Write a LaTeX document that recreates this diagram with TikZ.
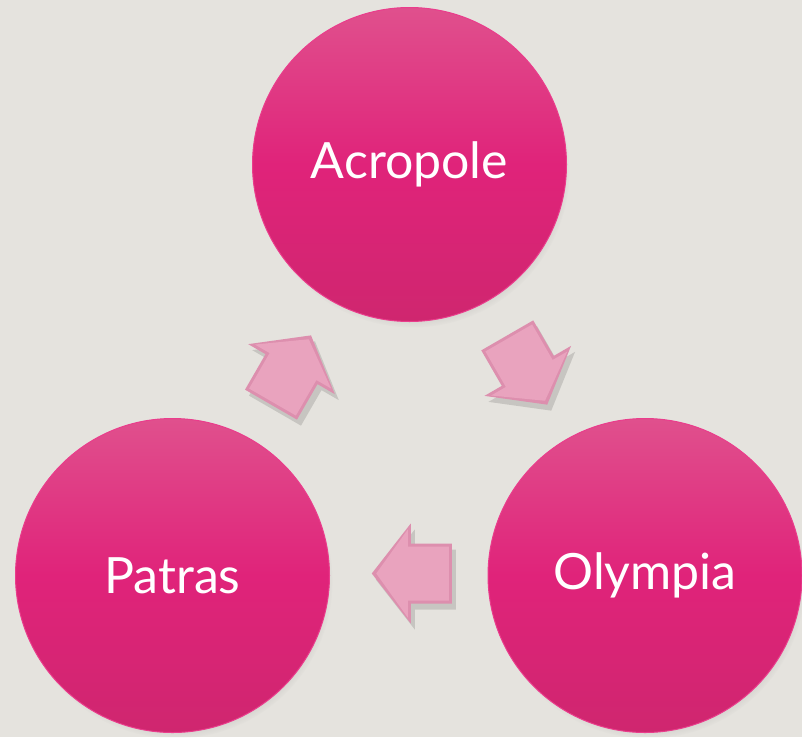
\documentclass[tikz,border=0pt]{standalone}
\usepackage{fontspec}
\setmainfont{Lato}
\usetikzlibrary{calc,shadows,fadings}
\definecolor{bg}{HTML}{E5E3DE}
\definecolor{ctop}{HTML}{E0508D}
\definecolor{cmid}{HTML}{E0237A}
\definecolor{cbot}{HTML}{CF266F}
\definecolor{crim}{HTML}{EA3D8C}
\definecolor{aedge}{HTML}{DD8FAE}
\definecolor{amain}{HTML}{E9A3BE}
\begin{document}
\begin{tikzpicture}[x=1pt,y=-1pt,
  city/.style={circle, minimum size=314pt, inner sep=0pt,
    top color=ctop, bottom color=cbot, middle color=cmid,
    draw=crim, line width=1pt, text=white,
    font=\fontsize{50}{58}\selectfont,
    circular drop shadow={shadow scale=1.0, shadow xshift=3pt, shadow yshift=-6pt, opacity=0.4}},
  pics/ashadow/.style={code={
    \fill[black, opacity=0.13] (-40,-30) -- (1,-30) -- (1,-50) -- (40,0) -- (1,50) -- (1,30) -- (-40,30) -- cycle;}},
  pics/abody/.style={code={
    \fill[aedge] (-40,-30) -- (1,-30) -- (1,-50) -- (40,0) -- (1,50) -- (1,30) -- (-40,30) -- cycle;
    \fill[amain] (-37,-27) -- (4,-27) -- (4,-44) -- (35.5,0) -- (4,44) -- (4,27) -- (-37,27) -- cycle;}}
]
\useasboundingbox (0,0) rectangle (802,737);
\fill[bg] (0,0) rectangle (802,737);
\clip (0,0) rectangle (802,737);
\node[city] (acro) at (409.5,164.5) {Acropole};
\node[city] (patr) at (172.5,575.5) {Patras};
\node[city] (olym) at (645,575.5) {Olympia};
\coordinate (m1) at ($(patr)!0.5!(acro)$);
\coordinate (m2) at ($(acro)!0.5!(olym)$);
\coordinate (m3) at ($(olym)!0.5!(patr)+(3,-2)$);
\pic[rotate=60] at ($(m1)+(4,6)$) {ashadow};
\pic[rotate=-60] at ($(m2)+(4,6)$) {ashadow};
\pic[rotate=180] at ($(m3)+(4,6)$) {ashadow};
\pic[rotate=60] at (m1) {abody};
\pic[rotate=-60] at (m2) {abody};
\pic[rotate=180] at (m3) {abody};
\end{tikzpicture}
\end{document}
